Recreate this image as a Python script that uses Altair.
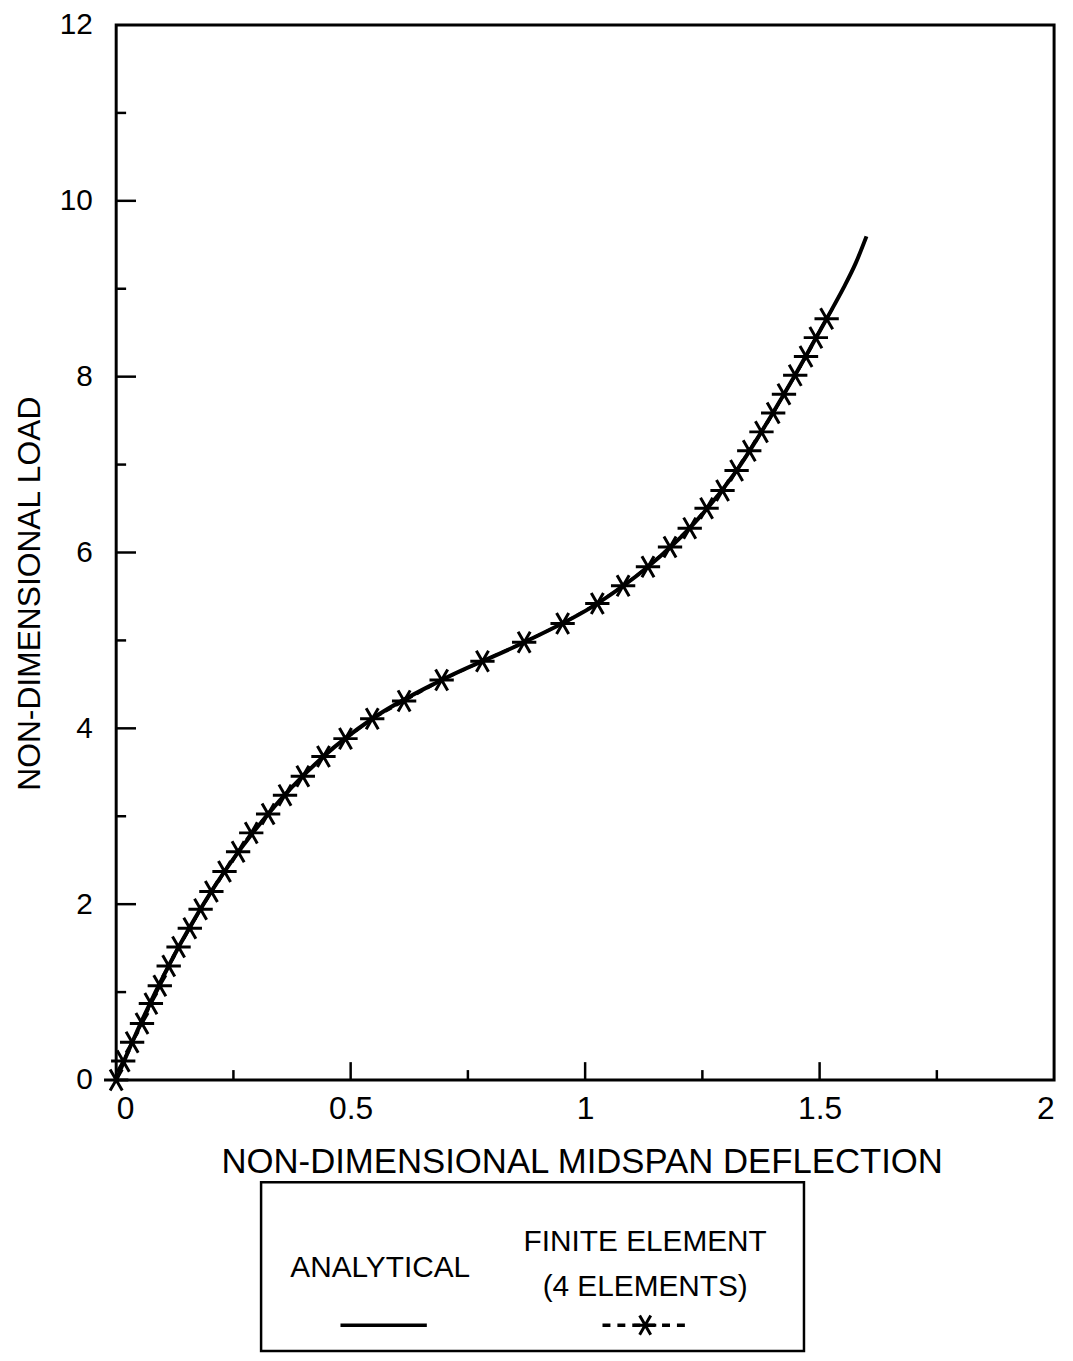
import altair as alt
import pandas as pd

# Finite element (4 elements) points
fe_x = [0.000, 0.015, 0.034, 0.055, 0.074, 0.093, 0.112, 0.133, 0.157, 0.180, 0.203,
        0.231, 0.260, 0.288, 0.324, 0.360, 0.398, 0.442, 0.489, 0.546, 0.614, 0.694,
        0.781, 0.870, 0.952, 1.026, 1.081, 1.134, 1.181, 1.223, 1.259, 1.293, 1.323,
        1.350, 1.376, 1.401, 1.424, 1.448, 1.471, 1.492, 1.515]
fe_y = [0.000, 0.215, 0.429, 0.643, 0.869, 1.072, 1.298, 1.513, 1.727, 1.942, 2.145,
        2.371, 2.597, 2.811, 3.026, 3.240, 3.455, 3.680, 3.883, 4.109, 4.312, 4.550,
        4.764, 4.979, 5.193, 5.419, 5.622, 5.837, 6.062, 6.277, 6.503, 6.706, 6.932,
        7.157, 7.372, 7.586, 7.801, 8.015, 8.230, 8.444, 8.659]

# Analytical curve
an_x = [0.0, 0.05, 0.112, 0.203, 0.324, 0.442, 0.546, 0.694, 0.870, 1.026, 1.134,
        1.223, 1.323, 1.424, 1.515, 1.551, 1.577, 1.600]
an_y = [0.0, 0.62, 1.30, 2.145, 3.026, 3.68, 4.109, 4.55, 4.979, 5.419, 5.837,
        6.277, 6.932, 7.801, 8.659, 9.009, 9.291, 9.596]

x_major_ticks = [0.5, 1.0, 1.5]
x_minor_ticks = [0.25, 0.75, 1.25, 1.75]
y_major_ticks = [2, 4, 6, 8, 10]
y_minor_ticks = [1, 3, 5, 7, 9, 11]
x_labels = [0, 0.5, 1, 1.5, 2]
y_labels = [0, 2, 4, 6, 8, 10, 12]

W, H = 945, 1063
FONT = "Liberation Sans"
STAR = "M-0.5,-0.866L0.5,0.866M-0.5,0.866L0.5,-0.866M-1,0L1,0"

xs = alt.Scale(domain=[0, 2], nice=False, zero=False)
ys = alt.Scale(domain=[0, 12], nice=False, zero=False)

an_df = pd.DataFrame({"x": an_x, "y": an_y})
fe_df = pd.DataFrame({"x": fe_x, "y": fe_y})

x_axis = alt.Axis(values=x_labels, ticks=False, domain=False, grid=False,
                  labelFontSize=32, labelFont=FONT, labelColor="black", labelPadding=14,
                  labelExpr="datum.value == 0 ? '0' : format(datum.value, '')",
                  title="NON-DIMENSIONAL MIDSPAN DEFLECTION", titleFont=FONT,
                  titleFontSize=35, titleFontWeight="normal", titleColor="black",
                  titleX=469, titleY=82, titleBaseline="middle", titleAlign="center")
y_axis = alt.Axis(values=y_labels, ticks=False, domain=False, grid=False, format="d",
                  labelFontSize=30, labelFont=FONT, labelColor="black", labelPadding=24,
                  title="NON-DIMENSIONAL LOAD", titleFont=FONT, titleFontSize=32,
                  titleFontWeight="normal", titleColor="black", titleAngle=-90,
                  titleX=-87, titleY=H / 2 + 41, titleBaseline="middle", titleAlign="center")

X = lambda: alt.X("x:Q", scale=xs, axis=x_axis)
Y = lambda: alt.Y("y:Q", scale=ys, axis=y_axis)

analytic = alt.Chart(an_df).mark_line(color="black", strokeWidth=4, interpolate="monotone").encode(
    x=X(), y=Y())
fe_line = alt.Chart(fe_df).mark_line(color="black", strokeWidth=3, strokeDash=[7, 5]).encode(
    x=X(), y=Y())
fe_pts = alt.Chart(fe_df).mark_point(shape=STAR, size=600, filled=False, color="black",
                                     strokeWidth=3, opacity=1).encode(x=X(), y=Y())

def xticks(vals, ln):
    return alt.Chart(pd.DataFrame({"x": vals})).mark_rule(color="black", strokeWidth=2.5).encode(
        x=X(), y=alt.value(H), y2=alt.value(H - ln))

def yticks(vals, ln):
    return alt.Chart(pd.DataFrame({"y": vals})).mark_rule(color="black", strokeWidth=2.5).encode(
        y=Y(), x=alt.value(0), x2=alt.value(ln))

one = pd.DataFrame({"a": [0]})

leg_box = alt.Chart(one).mark_rect(fillOpacity=0, stroke="black", strokeWidth=2.5).encode(
    x=alt.value(146), x2=alt.value(693), y=alt.value(1166), y2=alt.value(1336))

def ltext(txt, x, y):
    return alt.Chart(one).mark_text(text=txt, font=FONT, fontSize=30, color="black",
                                    align="center", baseline="middle").encode(
        x=alt.value(x), y=alt.value(y))

leg_solid = alt.Chart(one).mark_rule(color="black", strokeWidth=3.5).encode(
    x=alt.value(226), x2=alt.value(313), y=alt.value(1310))
leg_dash = alt.Chart(one).mark_rule(color="black", strokeWidth=3.5, strokeDash=[8, 7]).encode(
    x=alt.value(490), x2=alt.value(578), y=alt.value(1310))
leg_star = alt.Chart(one).mark_point(shape=STAR, size=500, filled=False, color="black",
                                     strokeWidth=3, opacity=1).encode(
    x=alt.value(533), y=alt.value(1310))

chart = alt.layer(
    analytic, fe_line, fe_pts,
    xticks(x_major_ticks, 18), xticks(x_minor_ticks, 10),
    yticks(y_major_ticks, 20), yticks(y_minor_ticks, 10),
    leg_box,
    ltext("ANALYTICAL", 266, 1252),
    ltext("FINITE ELEMENT", 533, 1226),
    ltext("(4 ELEMENTS)", 533, 1272),
    leg_solid, leg_dash, leg_star,
).properties(
    width=W, height=H,
    background="white",
    autosize=alt.AutoSizeParams(type="none"),
    padding={"left": 109, "top": 12, "right": 11, "bottom": 278},
).configure_view(stroke="black", strokeWidth=3)

chart.save("out.html", embed_options={"renderer": "svg", "actions": False})
